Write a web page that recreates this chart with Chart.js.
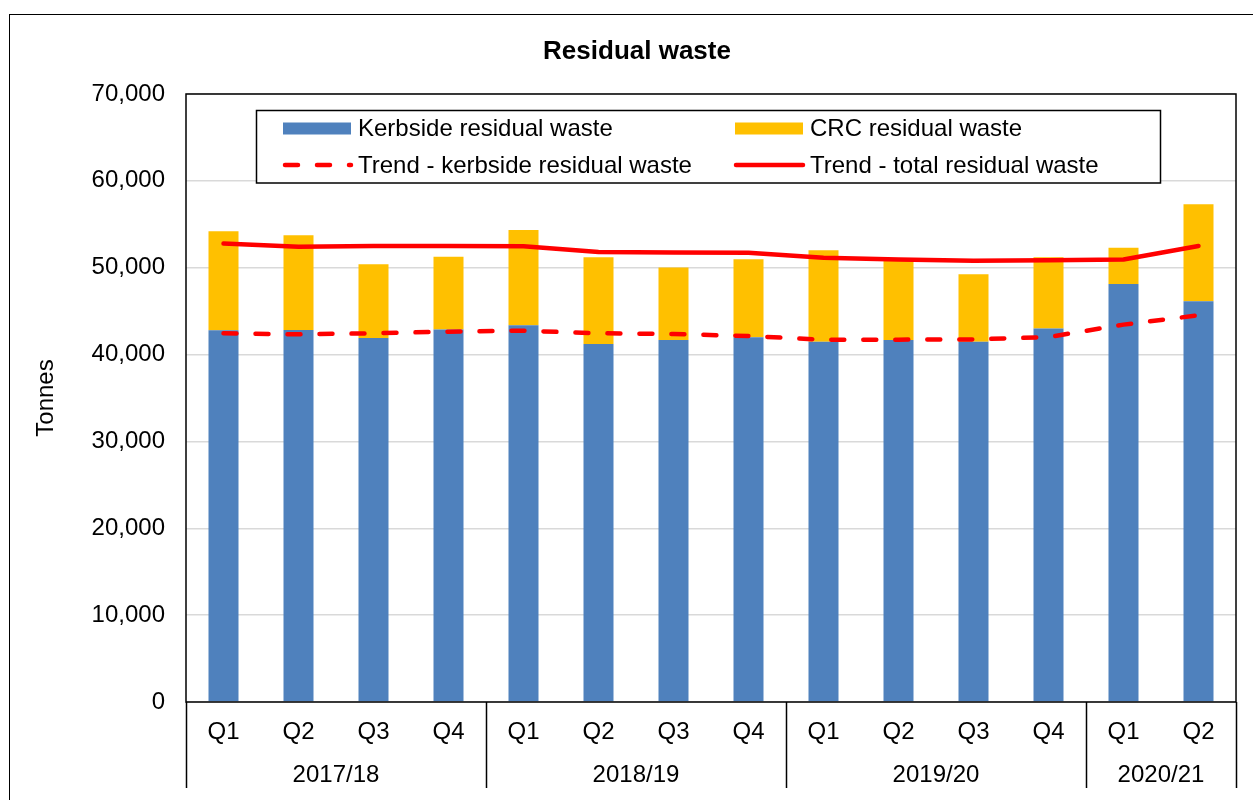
<!DOCTYPE html>
<html>
<head>
<meta charset="utf-8">
<script src="https://cdn.jsdelivr.net/npm/chart.js@4.4.1/dist/chart.umd.min.js"></script>
<style>
  html, body { margin: 0; padding: 0; background: #fff; }
  canvas { display: block; }
</style>
</head>
<body>
<canvas id="wasteChart" width="1253" height="800"></canvas>
<script>
// quarters and financial years on the x axis
const quarters = ['Q1', 'Q2', 'Q3', 'Q4', 'Q1', 'Q2', 'Q3', 'Q4', 'Q1', 'Q2', 'Q3', 'Q4', 'Q1', 'Q2'];
const years = ['2017/18', '2018/19', '2019/20', '2020/21'];
const quartersPerYear = [4, 4, 4, 2];

// tonnes per quarter
const kerbsideResidual = [42800, 42830, 41900, 42900, 43370, 41210, 41670, 41980, 41490, 41670, 41490, 42990, 48130, 46140];
const crcResidual = [11400, 10920, 8500, 8350, 10960, 10000, 8350, 9000, 10530, 9380, 7760, 8220, 4160, 11180];
const trendKerbside = [42450, 42330, 42450, 42640, 42750, 42450, 42370, 42140, 41700, 41720, 41750, 42020, 43450, 44520];
const trendTotal = [52780, 52400, 52510, 52500, 52480, 51820, 51750, 51710, 51150, 50940, 50790, 50860, 50940, 52510];

const yTicks = [0, 10000, 20000, 30000, 40000, 50000, 60000, 70000];

const BLUE = '#4f81bd';
const GOLD = '#ffc000';
const RED = '#ff0000';
const FONT = 'Arial, "Liberation Sans", sans-serif';
const TEXT_SIZE = 24;

Chart.defaults.font.family = FONT;
Chart.defaults.color = '#000';

// everything Excel draws around the plot: frame, title, legend, year row
const excelFrame = {
    id: 'excelFrame',
    afterDraw(chart) {
        const { ctx, chartArea: area } = chart;
        const x = chart.scales.x;
        ctx.save();

        // outer chart border (only top/left visible)
        ctx.strokeStyle = '#000';
        ctx.lineWidth = 1;
        ctx.strokeRect(9.5, 14.5, chart.width + 20, chart.height + 20);

        // title
        ctx.fillStyle = '#000';
        ctx.font = 'bold 26px ' + FONT;
        ctx.textAlign = 'center';
        ctx.textBaseline = 'middle';
        ctx.fillText('Residual waste', 637, 52);

        // plot area border
        ctx.lineWidth = 1.5;
        ctx.strokeStyle = '#000';
        ctx.strokeRect(area.left, area.top, area.right - area.left, area.bottom - area.top);

        // multi-level category separators + year labels
        const lineBottom = 788;
        let idx = 0;
        const bounds = [area.left];
        ctx.font = TEXT_SIZE + 'px ' + FONT;
        years.forEach((yr, g) => {
            const first = idx;
            const last = idx + quartersPerYear[g] - 1;
            idx += quartersPerYear[g];
            const cx = (x.getPixelForValue(first) + x.getPixelForValue(last)) / 2;
            ctx.fillText(yr, cx, 775);
            if (idx < quarters.length) {
                bounds.push((x.getPixelForValue(idx - 1) + x.getPixelForValue(idx)) / 2);
            }
        });
        bounds.push(area.right);
        ctx.beginPath();
        bounds.forEach(b => {
            const bx = Math.round(b) + 0.5;
            ctx.moveTo(bx, area.bottom);
            ctx.lineTo(bx, lineBottom);
        });
        ctx.stroke();

        // legend box
        ctx.lineWidth = 1.5;
        ctx.fillStyle = '#fff';
        ctx.fillRect(256.5, 110.5, 904, 72.5);
        ctx.strokeRect(256.5, 110.5, 904, 72.5);

        const row1 = 129.5, row2 = 166;
        const col1 = 283, col2 = 735, swatchW = 68;
        const ds = chart.data.datasets;

        ctx.fillStyle = BLUE;
        ctx.fillRect(col1, row1 - 7, swatchW, 12);
        ctx.fillStyle = GOLD;
        ctx.fillRect(col2, row1 - 7, swatchW, 12);

        ctx.strokeStyle = RED;
        ctx.lineWidth = 4.5;
        ctx.lineCap = 'round';
        ctx.setLineDash([13, 19]);
        ctx.beginPath();
        ctx.moveTo(col1 + 2, row2 - 1);
        ctx.lineTo(col1 + swatchW, row2 - 1);
        ctx.stroke();
        ctx.setLineDash([]);
        ctx.beginPath();
        ctx.moveTo(col2 + 1, row2 - 1);
        ctx.lineTo(col2 + swatchW, row2 - 1);
        ctx.stroke();

        ctx.fillStyle = '#000';
        ctx.textAlign = 'left';
        ctx.fillText(ds[0].label, 358, row1);
        ctx.fillText(ds[1].label, 810, row1);
        ctx.fillText(ds[2].label, 358, row2);
        ctx.fillText(ds[3].label, 810, row2);

        ctx.restore();
    }
};

new Chart(document.getElementById('wasteChart'), {
    type: 'bar',
    data: {
        labels: quarters,
        datasets: [
            {
                label: 'Kerbside residual waste',
                data: kerbsideResidual,
                backgroundColor: BLUE,
                stack: 'waste',
                barPercentage: 0.4,
                categoryPercentage: 1,
                order: 2
            },
            {
                label: 'CRC residual waste',
                data: crcResidual,
                backgroundColor: GOLD,
                stack: 'waste',
                barPercentage: 0.4,
                categoryPercentage: 1,
                order: 2
            },
            {
                type: 'line',
                label: 'Trend - kerbside residual waste',
                data: trendKerbside,
                stack: 'trendKerb',
                borderColor: RED,
                borderWidth: 4.5,
                borderDash: [13, 19],
                borderCapStyle: 'round',
                pointRadius: 0,
                tension: 0,
                order: 0
            },
            {
                type: 'line',
                label: 'Trend - total residual waste',
                data: trendTotal,
                stack: 'trendTotal',
                borderColor: RED,
                borderWidth: 4.5,
                borderCapStyle: 'round',
                borderJoinStyle: 'round',
                pointRadius: 0,
                tension: 0,
                order: 0
            }
        ]
    },
    options: {
        responsive: false,
        animation: false,
        layout: { padding: { top: 94, left: 32, right: 17, bottom: 0 } },
        plugins: {
            legend: { display: false },
            title: { display: false },
            tooltip: { enabled: false }
        },
        scales: {
            x: {
                stacked: true,
                grid: { display: false, drawTicks: false },
                border: { display: false },
                ticks: {
                    autoSkip: false,
                    maxRotation: 0,
                    padding: 16,
                    color: '#000',
                    font: { size: TEXT_SIZE }
                },
                afterFit: (scale) => { scale.height = 98; }
            },
            y: {
                stacked: true,
                min: 0,
                max: 70000,
                afterBuildTicks: (scale) => { scale.ticks = yTicks.map(v => ({ value: v })); },
                grid: { color: '#d9d9d9', lineWidth: 1.5, drawTicks: false },
                border: { display: false },
                ticks: {
                    padding: 21,
                    color: '#000',
                    font: { size: TEXT_SIZE },
                    callback: (v) => v.toLocaleString('en-US')
                },
                title: {
                    display: true,
                    text: 'Tonnes',
                    color: '#000',
                    font: { size: TEXT_SIZE },
                    padding: 0
                },
                afterFit: (scale) => { scale.width = 154; }
            }
        }
    },
    plugins: [excelFrame]
});
</script>
</body>
</html>
